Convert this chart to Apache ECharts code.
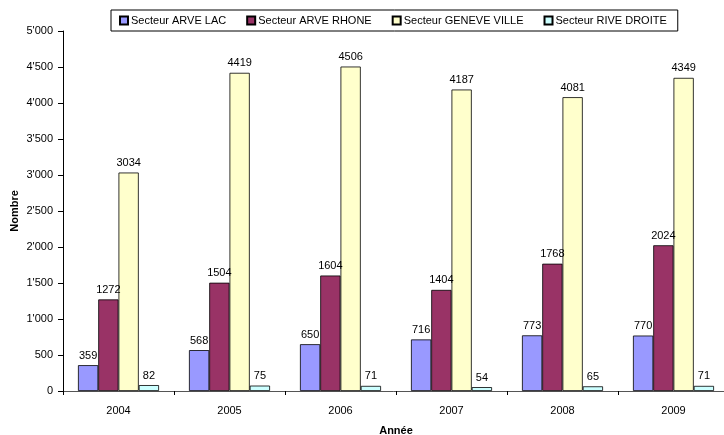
<!DOCTYPE html>
<html>
<head>
<meta charset="utf-8">
<script src="https://cdn.jsdelivr.net/npm/echarts@6/dist/echarts.min.js"></script>
<style>
  html, body { margin: 0; padding: 0; background: #fff; }
  #chart { width: 724px; height: 435px; }
</style>
</head>
<body>
<div id="chart"></div>
<script>
// Interventions per year and sector
const years = ['2004', '2005', '2006', '2007', '2008', '2009'];
const arveLac = [359, 568, 650, 716, 773, 770];
const arveRhone = [1272, 1504, 1604, 1404, 1768, 2024];
const geneveVille = [3034, 4419, 4506, 4187, 4081, 4349];
const riveDroite = [82, 75, 71, 54, 65, 71];

const seriesNames = ['Secteur ARVE LAC', 'Secteur ARVE RHONE', 'Secteur GENEVE VILLE', 'Secteur RIVE DROITE'];
const seriesColors = ['#9999FF', '#993366', '#FFFFCC', '#CCFFFF'];
const seriesValues = [arveLac, arveRhone, geneveVille, riveDroite];

const font = 'Liberation Sans, Arial, sans-serif';

function thousands(v) {
  return String(v).replace(/\B(?=(\d{3})+(?!\d))/g, "'");
}

const chart = echarts.init(document.getElementById('chart'), null, { renderer: 'canvas' });

chart.setOption({
  animation: false,
  backgroundColor: '#ffffff',
  textStyle: { fontFamily: font },
  legend: {
    top: 10,
    left: 111,
    icon: 'rect',
    itemWidth: 8,
    itemHeight: 8,
    itemGap: 20,
    padding: [5, 11, 5, 8],
    borderColor: '#000',
    borderWidth: 1,
    textStyle: { fontFamily: font, fontSize: 11, color: '#000', padding: [0, 0, 0, -2] },
    data: seriesNames
  },
  grid: {
    left: 63,
    top: 31,
    width: 666,
    bottom: 44,
    containLabel: false,
    outerBoundsMode: 'none'
  },
  xAxis: {
    type: 'category',
    data: years,
    name: 'Année',
    nameLocation: 'middle',
    nameGap: 34,
    nameMoveOverlap: false,
    nameTextStyle: { fontFamily: font, fontSize: 11, fontWeight: 'bold', color: '#000' },
    axisLine: { lineStyle: { color: '#555', width: 1 } },
    axisTick: { show: true, length: 4, lineStyle: { color: '#000' } },
    axisLabel: { fontFamily: font, fontSize: 11, color: '#000', margin: 14 },
    splitLine: { show: false }
  },
  yAxis: {
    type: 'value',
    min: 0,
    max: 5000,
    interval: 500,
    name: 'Nombre',
    nameLocation: 'middle',
    nameGap: 43,
    nameMoveOverlap: false,
    nameTextStyle: { fontFamily: font, fontSize: 11, fontWeight: 'bold', color: '#000' },
    axisLine: { show: true, lineStyle: { color: '#000', width: 1 } },
    axisTick: { show: true, length: 5, lineStyle: { color: '#000' } },
    axisLabel: { fontFamily: font, fontSize: 11, color: '#000', margin: 10, formatter: thousands },
    splitLine: { show: false }
  },
  series: seriesNames.map((name, i) => ({
    name: name,
    type: 'bar',
    data: seriesValues[i],
    barGap: '0%',
    barCategoryGap: '27%',
    itemStyle: { color: seriesColors[i], borderColor: '#000', borderWidth: 0.8 },
    label: {
      show: true,
      position: 'top',
      distance: 4,
      fontFamily: font,
      fontSize: 11,
      color: '#000'
    }
  }))
});
</script>
</body>
</html>
